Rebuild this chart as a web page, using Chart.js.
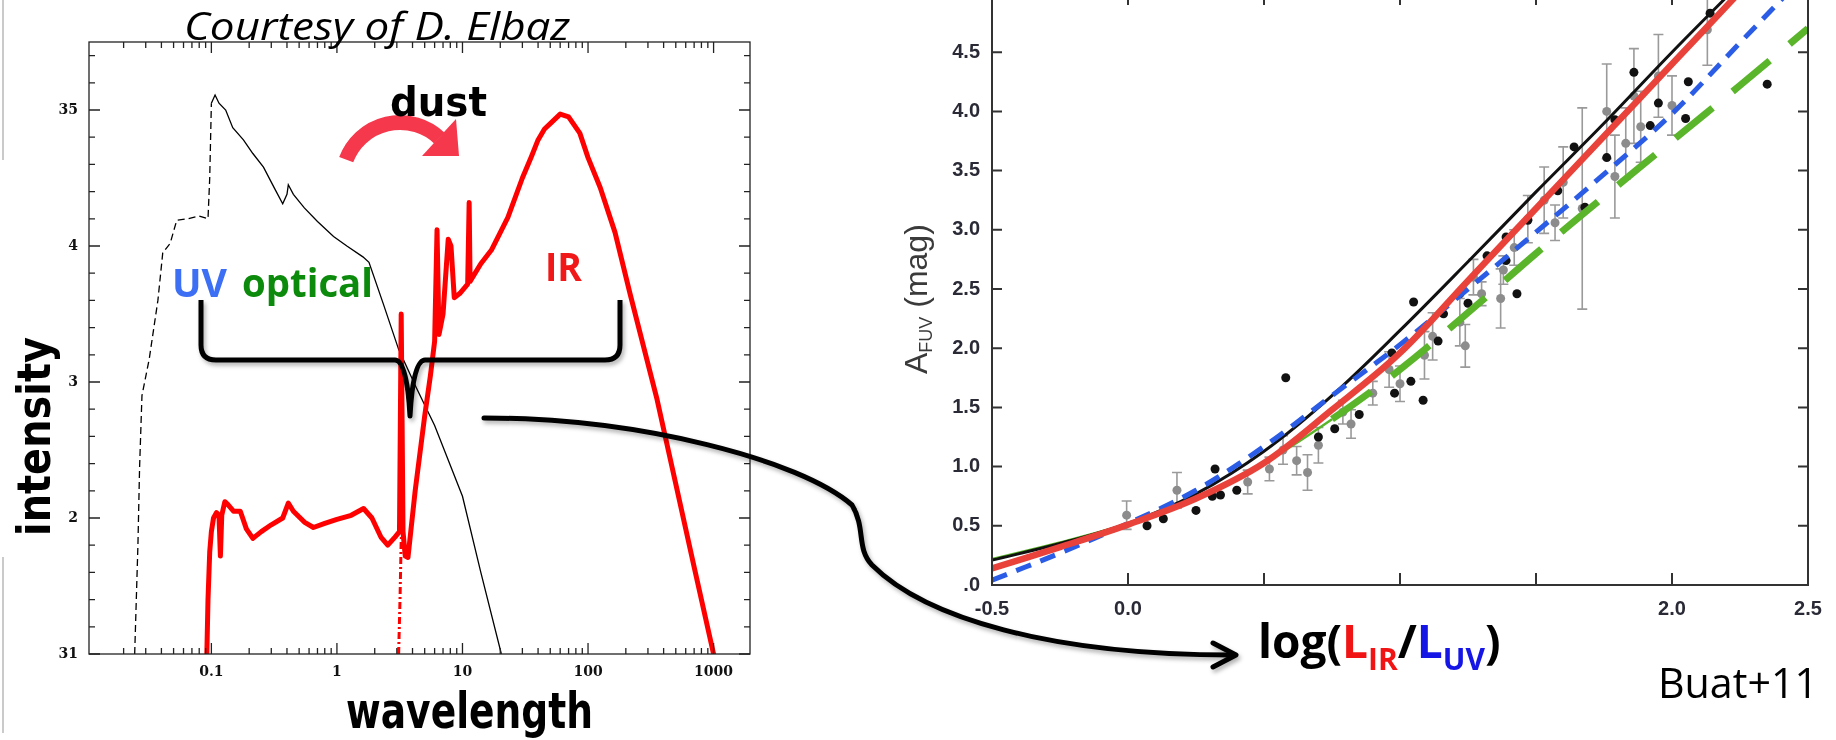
<!DOCTYPE html>
<html>
<head>
<meta charset="utf-8">
<script src="https://cdn.jsdelivr.net/npm/chart.js@4.4.1/dist/chart.umd.min.js"></script>
<style>
  html, body { margin: 0; padding: 0; background: #fff; width: 1836px; height: 740px; overflow: hidden; }
  body { position: relative; }
  #sedWrap { position: absolute; left: 0; top: 0; width: 770px; height: 700px; }
  #irxWrap { position: absolute; left: 900px; top: -40px; width: 936px; height: 680px; }
  #notes { position: absolute; left: 0; top: 0; width: 1836px; height: 740px; pointer-events: none; }
</style>
</head>
<body>
<div id="sedWrap"><canvas id="sed" width="770" height="700"></canvas></div>
<div id="irxWrap"><canvas id="irx" width="936" height="680"></canvas></div>

<svg id="notes" xmlns="http://www.w3.org/2000/svg" width="1836" height="740" viewBox="0 0 1836 740">
  <defs>
    <filter id="sh" x="-10%" y="-10%" width="130%" height="140%">
      <feDropShadow dx="2" dy="3" stdDeviation="2" flood-color="#000" flood-opacity="0.3"/>
    </filter>
  </defs>
  <!-- slide edge marks -->
  <line x1="3" y1="0" x2="3" y2="160" stroke="#b8b8b8" stroke-width="1.5"/>
  <line x1="3" y1="557" x2="3" y2="733" stroke="#b8b8b8" stroke-width="1.5"/>

  <text x="184" y="40" font-family="'Open Sans'" font-style="italic" font-size="38" fill="#000" textLength="386" lengthAdjust="spacingAndGlyphs">Courtesy of D. Elbaz</text>

  <!-- dust re-emission arrow -->
  <path d="M 346.2 159.6 A 57.5 57.5 0 0 1 439.2 137.9" fill="none" stroke="#f5384c" stroke-width="15"/>
  <polygon points="456,119 422,156 459,156" fill="#f5384c"/>
  <text x="390" y="116" font-family="'DejaVu Sans'" font-weight="bold" font-size="41" fill="#000" textLength="97" lengthAdjust="spacingAndGlyphs">dust</text>

  <text x="172" y="297" font-family="'Open Sans'" font-weight="bold" font-size="40" fill="#3d6ff4" textLength="55" lengthAdjust="spacingAndGlyphs">UV</text>
  <text x="242" y="297" font-family="'Open Sans'" font-weight="bold" font-size="40" fill="#0b8a0b" textLength="131" lengthAdjust="spacingAndGlyphs">optical</text>
  <text x="545" y="281" font-family="'Open Sans'" font-weight="bold" font-size="40" fill="#f01818" textLength="37" lengthAdjust="spacingAndGlyphs">IR</text>

  <!-- brace under the spectrum -->
  <path d="M201,300 L201,345 Q201,360 216,360 L395,360 Q407,360 410,416 Q413,360 425,360 L605,360 Q620,360 620,345 L620,300"
        fill="none" stroke="#000" stroke-width="5" stroke-linejoin="round" filter="url(#sh)"/>

  <!-- link from the spectrum to the attenuation diagram -->
  <g filter="url(#sh)" fill="none" stroke="#000" stroke-width="5" stroke-linecap="round" stroke-linejoin="round">
    <path d="M484,418 C640,418 800,460 852,505 C866,528 856,548 872,565 C925,618 1050,655 1232,655"/>
    <path d="M1213,643 L1236,655 L1213,667"/>
  </g>

  <text transform="translate(50,536) rotate(-90)" font-family="'DejaVu Sans'" font-weight="bold" font-size="46" fill="#000" textLength="199" lengthAdjust="spacingAndGlyphs">intensity</text>
  <text x="346" y="728" font-family="'DejaVu Sans'" font-weight="bold" font-size="50" fill="#000" textLength="247" lengthAdjust="spacingAndGlyphs">wavelength</text>

  <text transform="translate(927,374) rotate(-90)" font-family="'Liberation Sans'" font-size="32" fill="#3a3a3a">A<tspan font-size="18" dy="5">FUV</tspan><tspan dy="-5"> (mag)</tspan></text>

  <text x="1258" y="658" font-family="'Open Sans'" font-weight="bold" font-size="46" fill="#000">log(<tspan fill="#f01414">L</tspan><tspan fill="#f01414" font-size="30" dy="12">IR</tspan><tspan dy="-12">/</tspan><tspan fill="#1515e6">L</tspan><tspan fill="#1515e6" font-size="30" dy="12">UV</tspan><tspan dy="-12">)</tspan></text>

  <text x="1658" y="698" font-family="'Open Sans'" font-size="42" fill="#000" textLength="160" lengthAdjust="spacingAndGlyphs">Buat+11</text>
</svg>

<script>
// ---------- spectral energy distribution (left panel) ----------
// wavelength in micron, log luminosity
const starWave = [0.0245, 0.026, 0.0268, 0.028, 0.032, 0.0375, 0.041, 0.047, 0.053, 0.065, 0.08, 0.094, 0.097, 0.10, 0.107, 0.115, 0.13, 0.148, 0.18, 0.214, 0.26, 0.32, 0.37, 0.40, 0.41, 0.45, 0.55, 0.7, 0.94, 1.2, 1.61, 1.8, 2.33, 3.1, 4.28, 6.0, 10.0, 14.0, 20.4];
const starLum  = [31.0, 31.8, 32.37, 32.9, 33.17, 33.6, 33.95, 34.02, 34.19, 34.2, 34.22, 34.2, 34.5, 35.05, 35.11, 35.05, 35.0, 34.87, 34.78, 34.68, 34.58, 34.42, 34.31, 34.38, 34.45, 34.38, 34.28, 34.18, 34.07, 34.0, 33.92, 33.88, 33.58, 33.24, 32.96, 32.68, 32.16, 31.6, 31.0];

const obsWave = [0.092, 0.094, 0.097, 0.1, 0.104, 0.11, 0.115, 0.118, 0.121, 0.128, 0.135, 0.15, 0.17, 0.19, 0.214, 0.25, 0.3, 0.37, 0.41, 0.45, 0.55, 0.65, 0.8, 1.0, 1.3, 1.63, 1.9, 2.24, 2.54, 2.9, 3.15, 3.25, 3.36, 3.5, 3.68, 4.2, 5.0, 5.56, 6.0, 6.27, 6.5, 7.0, 7.7, 8.1, 8.6, 9.5, 11.0, 11.3, 11.5, 14, 17, 23, 30, 35.5, 40, 45, 50, 60, 70, 86, 100, 125, 164, 216, 295, 355, 500, 700, 1000];
const obsLum  = [31.0, 31.4, 31.75, 31.9, 32.0, 32.04, 32.02, 31.72, 32.02, 32.12, 32.1, 32.05, 32.05, 31.92, 31.85, 31.9, 31.95, 32.0, 32.11, 32.05, 31.97, 31.93, 31.96, 31.99, 32.02, 32.07, 32.0, 31.86, 31.8, 31.86, 31.9, 33.5, 31.9, 31.72, 31.71, 32.2, 32.75, 33.05, 33.3, 34.12, 33.35, 33.5, 34.05, 34.0, 33.62, 33.65, 33.72, 34.32, 33.74, 33.87, 33.97, 34.21, 34.5, 34.66, 34.78, 34.86, 34.9, 34.97, 34.95, 34.83, 34.65, 34.43, 34.1, 33.65, 33.16, 32.87, 32.25, 31.64, 31.0];

const hotDustWave = [3.1, 3.18, 3.25, 3.35];
const hotDustLum  = [31.0, 31.4, 31.84, 32.0];

const sedXTicks  = [0.1, 1, 10, 100, 1000];
const sedXLabels = ['0.1', '1', '10', '100', '1000'];
const sedYTicks  = [31, 32, 33, 34, 35];
const sedYLabels = ['31', '2', '3', '4', '35'];

// ---------- attenuation vs IR/UV ratio (right panel) ----------
const fitX     = [-0.5, -0.25, 0, 0.25, 0.5, 0.75, 1.0, 1.25, 1.5, 1.75, 2.0, 2.25, 2.5];
const fitBlack = [0.21, 0.35, 0.52, 0.77, 1.13, 1.60, 2.15, 2.73, 3.32, 3.90, 4.50, 5.08, 5.66];
const fitRed   = [0.14, 0.32, 0.51, 0.73, 1.03, 1.48, 1.96, 2.57, 3.18, 3.79, 4.40, 5.01, 5.62];
const fitBlue  = [0.04, 0.27, 0.52, 0.80, 1.17, 1.60, 2.03, 2.50, 2.98, 3.47, 3.98, 4.58, 5.18];
const fitGreen = [0.22, 0.36, 0.52, 0.74, 1.03, 1.40, 1.82, 2.30, 2.80, 3.28, 3.75, 4.22, 4.70];

const darkX = [0.07, 0.13, 0.25, 0.31, 0.34, 0.40, 0.32, 0.58, 0.70, 0.76, 0.85, 0.98, 1.04, 1.085, 0.97, 1.05, 1.14, 1.16, 1.22, 1.25, 1.32, 1.39, 1.39, 1.43, 1.47, 1.58, 1.64, 1.68, 1.76, 1.79, 1.86, 1.92, 1.95, 2.05, 2.06, 2.14, 2.35];
const darkY = [0.50, 0.56, 0.63, 0.75, 0.76, 0.80, 0.98, 1.75, 1.25, 1.32, 1.44, 1.62, 1.72, 1.56, 1.96, 2.39, 2.06, 2.29, 2.46, 2.38, 2.78, 2.74, 2.94, 2.46, 3.08, 3.33, 3.70, 3.19, 3.61, 3.93, 4.33, 3.88, 4.07, 3.94, 4.25, 4.83, 4.23];

const greyX   = [-0.005, 0.18, 0.44, 0.52, 0.57, 0.62, 0.66, 0.70, 0.79, 0.82, 0.90, 0.96, 1.0, 1.09, 1.12, 1.22, 1.24, 1.27, 1.30, 1.37, 1.38, 1.42, 1.47, 1.53, 1.57, 1.60, 1.67, 1.76, 1.79, 1.83, 1.86, 1.885, 1.95, 2.0, 2.13];
const greyY   = [0.59, 0.80, 0.87, 0.98, 1.14, 1.05, 0.95, 1.18, 1.46, 1.36, 1.62, 1.82, 1.70, 1.94, 2.10, 2.22, 2.02, 2.60, 2.46, 2.42, 2.66, 2.85, 3.09, 3.25, 3.06, 3.40, 3.18, 4.00, 3.45, 3.73, 4.13, 3.87, 4.30, 4.05, 4.69];
const greyErr = [0.12, 0.15, 0.10, 0.10, 0.12, 0.12, 0.15, 0.15, 0.10, 0.12, 0.10, 0.15, 0.15, 0.20, 0.20, 0.20, 0.18, 0.15, 0.10, 0.25, 0.12, 0.15, 0.20, 0.28, 0.15, 0.30, 0.85, 0.40, 0.35, 0.30, 0.40, 0.30, 0.35, 0.25, 0.30];

const irxXTicks  = [-0.5, 0, 0.5, 1, 1.5, 2, 2.5];
const irxXLabels = ['-0.5', '0.0', '', '', '', '2.0', '2.5'];
const irxYTicks  = [0, 0.5, 1, 1.5, 2, 2.5, 3, 3.5, 4, 4.5, 5];
const irxYLabels = ['.0', '0.5', '1.0', '1.5', '2.0', '2.5', '3.0', '3.5', '4.0', '4.5', '5.0'];

// ---------- helpers ----------
const pairs = (xs, ys) => xs.map((x, i) => ({ x: x, y: ys[i] }));

// closed frame with inward tick marks on all four sides
const frameTicks = {
  id: 'frameTicks',
  afterDraw(chart, args, o) {
    const { ctx, chartArea: a } = chart;
    const xs = chart.scales.x, ys = chart.scales.y;
    ctx.save();
    ctx.strokeStyle = o.color;
    ctx.lineWidth = o.width;
    ctx.beginPath();
    o.xMarks.forEach(m => {
      const p = xs.getPixelForValue(m.v);
      ctx.moveTo(p, a.bottom); ctx.lineTo(p, a.bottom - m.len);
      ctx.moveTo(p, a.top);    ctx.lineTo(p, a.top + m.len);
    });
    o.yMarks.forEach(m => {
      const p = ys.getPixelForValue(m.v);
      ctx.moveTo(a.left, p);  ctx.lineTo(a.left + m.len, p);
      ctx.moveTo(a.right, p); ctx.lineTo(a.right - m.len, p);
    });
    ctx.stroke();
    ctx.strokeRect(a.left, a.top, a.right - a.left, a.bottom - a.top);
    ctx.restore();
  }
};

// vertical error bars with caps, drawn beneath the markers
const errorBars = {
  id: 'errorBars',
  beforeDatasetsDraw(chart, args, o) {
    if (!o.xs) return;
    const { ctx, chartArea: a } = chart;
    const xs = chart.scales.x, ys = chart.scales.y;
    ctx.save();
    ctx.beginPath();
    ctx.rect(a.left, a.top, a.right - a.left, a.bottom - a.top);
    ctx.clip();
    ctx.strokeStyle = o.color;
    ctx.lineWidth = o.width;
    ctx.beginPath();
    o.xs.forEach((x, i) => {
      const px = xs.getPixelForValue(x);
      const hi = ys.getPixelForValue(o.ys[i] + o.err[i]);
      const lo = ys.getPixelForValue(o.ys[i] - o.err[i]);
      ctx.moveTo(px, hi); ctx.lineTo(px, lo);
      ctx.moveTo(px - o.cap, hi); ctx.lineTo(px + o.cap, hi);
      ctx.moveTo(px - o.cap, lo); ctx.lineTo(px + o.cap, lo);
    });
    ctx.stroke();
    ctx.restore();
  }
};

// ---------- left panel ----------
const sedMinorX = [];
[0.01, 0.1, 1, 10, 100, 1000].forEach(d => { for (let k = 2; k <= 9; k++) { const v = k * d; if (v > 0.0106 && v < 1950) sedMinorX.push(v); } });
const sedMinorY = [];
for (let v = 31.2; v < 35.45; v += 0.2) { if (Math.abs(v - Math.round(v)) > 0.05) sedMinorY.push(v); }

new Chart(document.getElementById('sed'), {
  type: 'line',
  data: {
    datasets: [
      { data: pairs(obsWave, obsLum), borderColor: '#ff0000', borderWidth: 5, pointRadius: 0, tension: 0, borderJoinStyle: 'round', borderCapStyle: 'round' },
      { data: pairs(hotDustWave, hotDustLum), borderColor: '#ff0000', borderWidth: 3, borderDash: [7, 3, 2, 3], pointRadius: 0, tension: 0 },
      { data: pairs(starWave, starLum), borderColor: '#000', borderWidth: 1.3, pointRadius: 0, tension: 0,
        segment: { borderDash: c => (c.p1.parsed.x <= 0.1 ? [7, 4] : undefined) } }
    ]
  },
  options: {
    responsive: false, animation: false, events: [],
    layout: { padding: { top: 42, right: 20, left: 0, bottom: 0 } },
    plugins: {
      legend: { display: false }, tooltip: { enabled: false },
      frameTicks: {
        color: '#222', width: 1.3,
        xMarks: sedXTicks.map(v => ({ v, len: 11 })).concat(sedMinorX.map(v => ({ v, len: 6 }))),
        yMarks: sedYTicks.map(v => ({ v, len: 11 })).concat(sedMinorY.map(v => ({ v, len: 6 })))
      }
    },
    scales: {
      x: {
        type: 'logarithmic', min: 0.0106, max: 1950,
        grid: { display: false, drawTicks: false }, border: { display: false },
        afterBuildTicks: s => { s.ticks = sedXTicks.map(v => ({ value: v })); },
        afterFit: s => { s.height = 46; },
        ticks: { padding: 10, color: '#111', autoSkip: false, maxRotation: 0,
                 font: { family: 'DejaVu Serif', weight: 'bold', size: 14 },
                 callback: (v, i) => sedXLabels[i] }
      },
      y: {
        type: 'linear', min: 31, max: 35.5,
        grid: { display: false, drawTicks: false }, border: { display: false },
        afterBuildTicks: s => { s.ticks = sedYTicks.map(v => ({ value: v })); },
        afterFit: s => { s.width = 89; },
        ticks: { padding: 11, color: '#111',
                 font: { family: 'DejaVu Serif', weight: 'bold', size: 14 },
                 callback: (v, i) => sedYLabels[i] }
      }
    }
  },
  plugins: [frameTicks]
});

// ---------- right panel ----------
const axisFont = { family: 'Liberation Sans', size: 20, weight: 'bold' };

new Chart(document.getElementById('irx'), {
  type: 'line',
  data: {
    datasets: [
      { data: pairs(fitX, fitRed), borderColor: '#e8423a', borderWidth: 6.5, pointRadius: 0, tension: 0.35 },
      { data: pairs(fitX, fitBlue), borderColor: '#2b5ce6', borderWidth: 5, borderDash: [16, 10], pointRadius: 0, tension: 0.35 },
      { data: pairs(fitX, fitBlack), borderColor: '#111', borderWidth: 3, pointRadius: 0, tension: 0.35 },
      { data: pairs(fitX, fitGreen), borderColor: '#5ab52a', pointRadius: 0, tension: 0.35, borderWidth: 7,
        segment: {
          borderWidth: c => (c.p0.parsed.x < 0.74 ? 2.5 : undefined),
          borderDash: c => (c.p0.parsed.x < 0.74 ? [] : [48, 26])
        } },
      { type: 'scatter', data: pairs(darkX, darkY), pointRadius: 4.5, pointBackgroundColor: '#111', pointBorderColor: '#111', pointBorderWidth: 0, showLine: false },
      { type: 'scatter', data: pairs(greyX, greyY), pointRadius: 4.5, pointBackgroundColor: '#8c8c8c', pointBorderColor: '#8c8c8c', pointBorderWidth: 0, showLine: false }
    ]
  },
  options: {
    responsive: false, animation: false, events: [],
    layout: { padding: { top: 33, right: 28, left: 0, bottom: 0 } },
    plugins: {
      legend: { display: false }, tooltip: { enabled: false },
      frameTicks: {
        color: '#333', width: 2,
        xMarks: irxXTicks.slice(1, -1).map(v => ({ v, len: 12 })),
        yMarks: irxYTicks.slice(1, -1).map(v => ({ v, len: 10 }))
      },
      errorBars: { xs: greyX, ys: greyY, err: greyErr, color: '#9a9a9a', width: 1.6, cap: 5 }
    },
    scales: {
      x: {
        type: 'linear', min: -0.5, max: 2.5,
        grid: { display: false, drawTicks: false }, border: { display: false },
        afterBuildTicks: s => { s.ticks = irxXTicks.map(v => ({ value: v })); },
        afterFit: s => { s.height = 55; },
        ticks: { padding: 12, color: '#2a2a36', autoSkip: false, maxRotation: 0, font: axisFont,
                 callback: (v, i) => irxXLabels[i] }
      },
      y: {
        type: 'linear', min: 0, max: 5,
        grid: { display: false, drawTicks: false }, border: { display: false },
        afterBuildTicks: s => { s.ticks = irxYTicks.map(v => ({ value: v })); },
        afterFit: s => { s.width = 92; },
        ticks: { padding: 12, color: '#2a2a36', font: axisFont,
                 callback: (v, i) => irxYLabels[i] }
      }
    }
  },
  plugins: [frameTicks, errorBars]
});
</script>
</body>
</html>
